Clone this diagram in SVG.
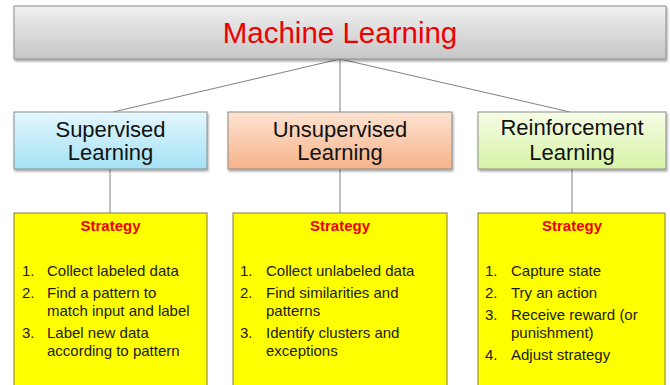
<svg xmlns="http://www.w3.org/2000/svg" width="670" height="385" viewBox="0 0 670 385">
  <defs>
    <linearGradient id="gGray" x1="0" y1="0" x2="0" y2="1">
      <stop offset="0" stop-color="#f0f0f0"/>
      <stop offset="1" stop-color="#c6c6c6"/>
    </linearGradient>
    <linearGradient id="gBlue" x1="0" y1="0" x2="0" y2="1">
      <stop offset="0" stop-color="#e4f7fd"/>
      <stop offset="1" stop-color="#a4e2f5"/>
    </linearGradient>
    <linearGradient id="gOrange" x1="0" y1="0" x2="0" y2="1">
      <stop offset="0" stop-color="#fde3d1"/>
      <stop offset="1" stop-color="#f6b389"/>
    </linearGradient>
    <linearGradient id="gGreen" x1="0" y1="0" x2="0" y2="1">
      <stop offset="0" stop-color="#f6fde6"/>
      <stop offset="1" stop-color="#d6f3a6"/>
    </linearGradient>
    <filter id="shadow" x="-5%" y="-10%" width="110%" height="130%">
      <feDropShadow dx="1" dy="2" stdDeviation="1" flood-color="#000" flood-opacity="0.35"/>
    </filter>
  </defs>
  <style>
    .box { stroke: #8c8c8c; stroke-width: 1; filter: url(#shadow); }
    .strat { fill: #ffff00; stroke: #7f7d45; stroke-width: 1; }
    .title { font-family: "Liberation Sans", Arial, sans-serif; font-size: 29.5px; fill: #ee0000; text-anchor: middle; }
    .cat { font-family: "Liberation Sans", Arial, sans-serif; font-size: 22px; fill: #111; text-anchor: middle; }
    .head { font-family: "Liberation Sans", Arial, sans-serif; font-size: 15px; font-weight: bold; fill: #ee0000; text-anchor: middle; }
    .item { font-family: "Liberation Sans", Arial, sans-serif; font-size: 15px; fill: #1a1a1a; }
    .conn line { stroke: #808080; stroke-width: 1; }
  </style>

  <rect width="670" height="385" fill="#ffffff"/>

  <!-- connectors -->
  <g id="connectors" class="conn">
    <line x1="340" y1="59" x2="113" y2="112"/>
    <line x1="340" y1="59" x2="340" y2="112"/>
    <line x1="340" y1="59" x2="570" y2="112"/>
    <line x1="110" y1="169" x2="110" y2="213"/>
    <line x1="340" y1="169" x2="340" y2="213"/>
    <line x1="572" y1="169" x2="572" y2="213"/>
  </g>

  <!-- root -->
  <g id="machine-learning">
    <rect class="box" x="14" y="6" width="652" height="53" fill="url(#gGray)"/>
    <text class="title" x="340" y="43">Machine Learning</text>
  </g>

  <!-- categories -->
  <g id="supervised">
    <rect class="box" x="14" y="112" width="193" height="57" fill="url(#gBlue)"/>
    <text class="cat" x="110.5" y="137">Supervised</text>
    <text class="cat" x="110.5" y="160">Learning</text>
  </g>
  <g id="unsupervised">
    <rect class="box" x="228" y="112" width="224" height="57" fill="url(#gOrange)"/>
    <text class="cat" x="340" y="137">Unsupervised</text>
    <text class="cat" x="340" y="160">Learning</text>
  </g>
  <g id="reinforcement">
    <rect class="box" x="478" y="112" width="188" height="57" fill="url(#gGreen)"/>
    <text class="cat" x="572" y="135">Reinforcement</text>
    <text class="cat" x="572" y="160">Learning</text>
  </g>

  <!-- strategies -->
  <g id="supervised-strategy">
    <rect class="strat" x="14" y="213" width="193" height="180"/>
    <text class="head" x="110.5" y="231">Strategy</text>
    <text class="item" x="22" y="276">1.</text>
    <text class="item" x="47" y="276">Collect labeled data</text>
    <text class="item" x="22" y="298">2.</text>
    <text class="item" x="47" y="298">Find a pattern to</text>
    <text class="item" x="47" y="316">match input and label</text>
    <text class="item" x="22" y="338">3.</text>
    <text class="item" x="47" y="338">Label new data</text>
    <text class="item" x="47" y="356">according to pattern</text>
  </g>
  <g id="unsupervised-strategy">
    <rect class="strat" x="233" y="213" width="214" height="180"/>
    <text class="head" x="340" y="231">Strategy</text>
    <text class="item" x="240" y="276">1.</text>
    <text class="item" x="266" y="276">Collect unlabeled data</text>
    <text class="item" x="240" y="298">2.</text>
    <text class="item" x="266" y="298">Find similarities and</text>
    <text class="item" x="266" y="316">patterns</text>
    <text class="item" x="240" y="338">3.</text>
    <text class="item" x="266" y="338">Identify clusters and</text>
    <text class="item" x="266" y="356">exceptions</text>
  </g>
  <g id="reinforcement-strategy">
    <rect class="strat" x="478" y="213" width="187" height="180"/>
    <text class="head" x="572" y="231">Strategy</text>
    <text class="item" x="485" y="276">1.</text>
    <text class="item" x="511" y="276">Capture state</text>
    <text class="item" x="485" y="298">2.</text>
    <text class="item" x="511" y="298">Try an action</text>
    <text class="item" x="485" y="320">3.</text>
    <text class="item" x="511" y="320">Receive reward (or</text>
    <text class="item" x="511" y="338">punishment)</text>
    <text class="item" x="485" y="360">4.</text>
    <text class="item" x="511" y="360">Adjust strategy</text>
  </g>
</svg>
